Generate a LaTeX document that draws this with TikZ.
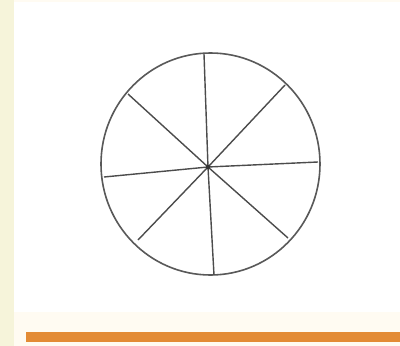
\documentclass[tikz,border=0pt]{standalone}
\begin{document}
\begin{tikzpicture}[x=1pt,y=-1pt,
  spoke/.style={draw=black!70,line width=1.4pt},
  rim/.style={draw=black!65,line width=1.6pt}]
\definecolor{strip}{HTML}{F6F4DA}
\definecolor{cream}{HTML}{FFFBF2}
\definecolor{bar}{HTML}{E38B35}
\useasboundingbox (0,0) rectangle (400,346);
\fill[white] (0,0) rectangle (400,346);
\fill[cream] (0,0) rectangle (400,2);
\fill[cream] (14,312) rectangle (400,346);
\fill[strip] (0,0) rectangle (14,346);
\fill[bar] (26,332) rectangle (400,342);
\coordinate (c) at (208,167);
\coordinate (p1) at (204,54);
\coordinate (p2) at (214,275);
\coordinate (p3) at (128,94);
\coordinate (p4) at (288,238);
\coordinate (p5) at (285,85);
\coordinate (p6) at (138,240);
\coordinate (p7) at (318,162);
\coordinate (p8) at (104,177);
\coordinate (o) at (210.5,164);
\draw[rim] (o) ellipse [x radius=109.5, y radius=111];
\foreach \p in {p1,p2,p3,p4,p5,p6,p7,p8}
  \draw[spoke] (c) -- (\p);
\fill[black!80] (c) circle (2.2);
\end{tikzpicture}
\end{document}
